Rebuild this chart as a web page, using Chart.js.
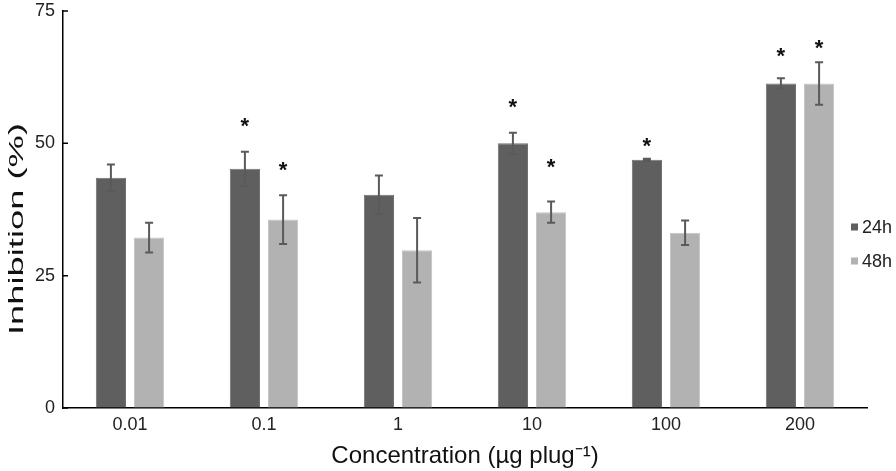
<!DOCTYPE html>
<html><head><meta charset="utf-8">
<script src="https://cdn.jsdelivr.net/npm/chart.js@4/dist/chart.umd.min.js"></script>
<style>html,body{margin:0;padding:0;background:#fff;}#wrap{width:896px;height:471px;position:relative}</style>
</head><body><div id="wrap"><canvas id="c"></canvas></div>
<script>
const categories = ['0.01', '0.1', '1', '10', '100', '200'];
const seriesLabels = ['24h', '48h'];
const inhibition24h = [43.5, 45.2, 40.3, 50.0, 46.9, 61.3];
const error24h = [2.5, 3.2, 3.6, 2.0, 0.2, 1.0];
const inhibition48h = [32.2, 35.6, 29.8, 37.0, 33.1, 61.3];
const error48h = [2.8, 4.6, 6.1, 2.0, 2.3, 4.0];
const star24h = [null, 53.9, null, 57.6, 50.2, 67.1];
const star48h = [null, 45.7, null, 46.1, null, 68.6];
const yTicks = [0, 25, 50, 75];
const yTitle = 'Inhibition (%)';
const xTitle = 'Concentration (µg plug⁻¹)';

const FONT = '"Liberation Sans", Arial, sans-serif';
const errors = [error24h, error48h];
const stars = [star24h, star48h];

const extrasPlugin = {
  id: 'extras',
  afterDatasetsDraw(chart) {
    const ctx = chart.ctx, y = chart.scales.y;
    ctx.save();
    chart.data.datasets.forEach((ds, i) => {
      const meta = chart.getDatasetMeta(i);
      meta.data.forEach((el, j) => {
        const v = ds.data[j], e = errors[i][j];
        const yt = y.getPixelForValue(v + e), yb = y.getPixelForValue(v - e);
        ctx.strokeStyle = '#5a5a5a';
        ctx.lineWidth = 2;
        ctx.beginPath();
        ctx.moveTo(el.x, yt); ctx.lineTo(el.x, yb);
        ctx.moveTo(el.x - 4, yt); ctx.lineTo(el.x + 4, yt);
        ctx.moveTo(el.x - 4, yb); ctx.lineTo(el.x + 4, yb);
        ctx.stroke();
        const s = stars[i][j];
        if (s != null) {
          ctx.fillStyle = '#111';
          ctx.font = 'bold 22px ' + FONT;
          ctx.textAlign = 'center';
          ctx.textBaseline = 'alphabetic';
          const m = ctx.measureText('*');
          const py = y.getPixelForValue(s);
          ctx.fillText('*', el.x, py + (m.actualBoundingBoxAscent - m.actualBoundingBoxDescent) / 2);
        }
      });
    });
    ctx.restore();
  },
  afterDraw(chart) {
    const ctx = chart.ctx, y = chart.scales.y, area = chart.chartArea;
    ctx.save();
    ctx.strokeStyle = '#000';
    ctx.lineWidth = 1.5;
    ctx.beginPath();
    y.ticks.forEach(t => {
      const py = y.getPixelForValue(t.value);
      ctx.moveTo(area.left, py); ctx.lineTo(area.left + 5, py);
    });
    ctx.stroke();
    // y axis title (stretched along its length as in the reference)
    ctx.save();
    ctx.font = '21px ' + FONT;
    ctx.fillStyle = '#111';
    ctx.textAlign = 'center';
    ctx.textBaseline = 'middle';
    const w = ctx.measureText(yTitle).width;
    ctx.translate(17, 229);
    ctx.rotate(-Math.PI / 2);
    ctx.scale(212 / w, 1);
    ctx.fillText(yTitle, 0, 0);
    ctx.restore();
    // legend
    ctx.font = '18px ' + FONT;
    ctx.textAlign = 'left';
    ctx.textBaseline = 'middle';
    chart.data.datasets.forEach((ds, i) => {
      const cy = 227 + i * 34;
      ctx.fillStyle = ds.backgroundColor;
      ctx.fillRect(851, cy - 3.5, 7, 7);
      ctx.fillStyle = '#222';
      ctx.fillText(ds.label, 862, cy + 1);
    });
    ctx.restore();
  }
};

new Chart(document.getElementById('c'), {
  type: 'bar',
  data: {
    labels: categories,
    datasets: [
      { label: seriesLabels[0], data: inhibition24h, backgroundColor: '#5f5f5f', borderColor: '#707070', borderWidth: 1 },
      { label: seriesLabels[1], data: inhibition48h, backgroundColor: '#b2b2b2', borderColor: '#c4c4c4', borderWidth: 1 }
    ]
  },
  options: {
    responsive: true,
    maintainAspectRatio: false,
    animation: false,
    datasets: { bar: { categoryPercentage: 0.57, barPercentage: 0.79 } },
    layout: { padding: { top: 11, right: 29, left: 0, bottom: 0 } },
    plugins: { legend: { display: false }, tooltip: { enabled: false } },
    scales: {
      x: {
        grid: { display: true, drawOnChartArea: false, drawTicks: false },
        border: { display: true, color: '#000', width: 1.5 },
        ticks: { color: '#222', font: { family: FONT, size: 18 }, padding: 6 },
        title: { display: true, text: xTitle, color: '#111', font: { family: FONT, size: 24 }, padding: { top: 0, bottom: 0 } },
        afterFit(s) { s.height = 63; s.paddingLeft = 0; s.paddingRight = 0; }
      },
      y: {
        min: 0, max: 75,
        afterBuildTicks(s) { s.ticks = yTicks.map(v => ({ value: v })); },
        grid: { display: true, drawOnChartArea: false, drawTicks: false },
        border: { display: true, color: '#000', width: 1.5 },
        ticks: { color: '#222', font: { family: FONT, size: 18 }, padding: 8 },
        title: { display: false, text: yTitle },
        afterFit(s) { s.width = 63; s.paddingTop = 0; s.paddingBottom = 0; }
      }
    }
  },
  plugins: [extrasPlugin]
});
</script></body></html>
